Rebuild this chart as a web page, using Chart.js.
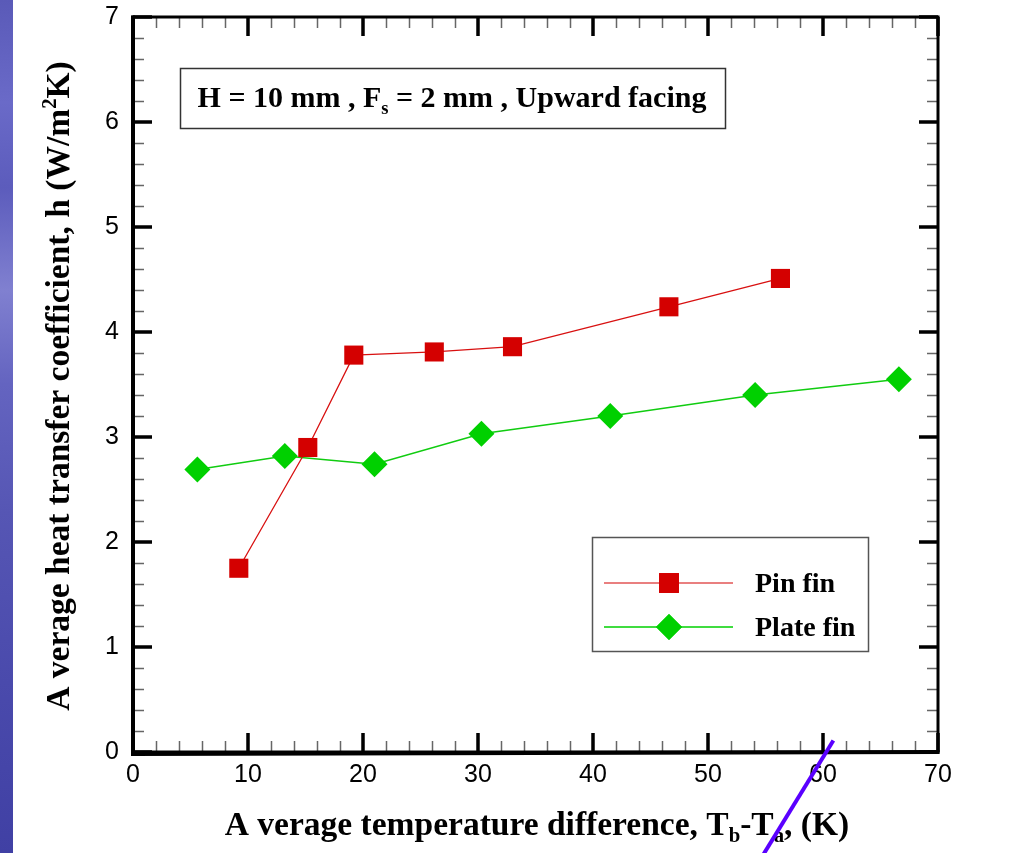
<!DOCTYPE html>
<html>
<head>
<meta charset="utf-8">
<script src="https://cdn.jsdelivr.net/npm/chart.js@4.4.1/dist/chart.umd.min.js"></script>
<style>
  html, body { margin: 0; padding: 0; background: #fff; }
  #wrap { position: relative; width: 1019px; height: 853px; overflow: hidden; }
  #strip {
    position: absolute; left: 0; top: 0; width: 13px; height: 853px;
    background: linear-gradient(180deg, #5a5ab8 0%, #6a6ac8 12%, #5c5cbc 22%, #8080d0 34%, #6464c0 45%, #5656b4 60%, #4a4aac 80%, #4040a4 100%);
  }
  #chart { position: absolute; left: 0; top: 0; }
</style>
</head>
<body>
<div id="wrap">
  <div id="strip"></div>
  <canvas id="chart" width="1019" height="853"></canvas>
</div>
<script>
// values
const pinX = [9.2, 15.2, 19.2, 26.2, 33.0, 46.6, 56.3];
const pinH = [1.75, 2.90, 3.78, 3.81, 3.86, 4.24, 4.51];
const plateX = [5.6, 13.2, 21.0, 30.3, 41.5, 54.1, 66.6];
const plateH = [2.69, 2.82, 2.74, 3.03, 3.20, 3.40, 3.55];
const seriesNames = ['Pin fin', 'Plate fin'];
const xTicks = [0, 10, 20, 30, 40, 50, 60, 70];
const yTicks = [0, 1, 2, 3, 4, 5, 6, 7];
// hand-drawn pen stroke across the x axis (data units)
const penStroke = [{ x: 60.9, y: 0.11 }, { x: 54.4, y: -1.05 }];

const RED = '#d40000';
const GREEN = '#00d000';
const SERIF = '"Liberation Serif", "Times New Roman", serif';
const SANS = '"Liberation Sans", Arial, sans-serif';

const toPoints = (xs, ys) => xs.map((x, i) => ({ x, y: ys[i] }));

// draw a run of text pieces, some of them sub/superscript
function richWidth(ctx, parts, size) {
  let w = 0;
  parts.forEach(p => {
    const s = p.sub || p.sup ? size * 0.62 : size;
    ctx.font = 'bold ' + s + 'px ' + SERIF;
    w += ctx.measureText(p.t).width;
  });
  return w;
}
function richText(ctx, parts, x, y, size, align) {
  let cx = align === 'center' ? x - richWidth(ctx, parts, size) / 2 : x;
  ctx.textAlign = 'left';
  ctx.textBaseline = 'alphabetic';
  parts.forEach(p => {
    const s = p.sub || p.sup ? size * 0.62 : size;
    ctx.font = 'bold ' + s + 'px ' + SERIF;
    let dy = 0;
    if (p.sub) dy = size * 0.22;
    if (p.sup) dy = -size * 0.38;
    ctx.fillText(p.t, cx, y + dy);
    cx += ctx.measureText(p.t).width;
  });
}

const framePlugin = {
  id: 'frame',
  afterDraw(chart) {
    const { ctx, chartArea: a, scales: { x, y } } = chart;
    ctx.save();
    ctx.fillStyle = '#000';

    // minor ticks, inward on all four sides
    ctx.strokeStyle = '#666';
    ctx.lineWidth = 1.5;
    ctx.beginPath();
    for (let v = 0; v <= 70; v += 2) {
      if (v % 10 === 0) continue;
      const px = Math.round(x.getPixelForValue(v)) + 0.5;
      ctx.moveTo(px, a.bottom); ctx.lineTo(px, a.bottom - 11);
      ctx.moveTo(px, a.top); ctx.lineTo(px, a.top + 11);
    }
    for (let k = 0; k <= 35; k++) {
      if (k % 5 === 0) continue;
      const py = Math.round(y.getPixelForValue(k / 5)) + 0.5;
      ctx.moveTo(a.left, py); ctx.lineTo(a.left + 11, py);
      ctx.moveTo(a.right, py); ctx.lineTo(a.right - 11, py);
    }
    ctx.stroke();

    // major ticks
    ctx.strokeStyle = '#000';
    ctx.lineWidth = 3.5;
    ctx.beginPath();
    xTicks.forEach(v => {
      const px = x.getPixelForValue(v);
      ctx.moveTo(px, a.bottom); ctx.lineTo(px, a.bottom - 19);
      ctx.moveTo(px, a.top); ctx.lineTo(px, a.top + 19);
    });
    yTicks.forEach(v => {
      const py = y.getPixelForValue(v);
      ctx.moveTo(a.left, py); ctx.lineTo(a.left + 19, py);
      ctx.moveTo(a.right, py); ctx.lineTo(a.right - 19, py);
    });
    ctx.stroke();

    // frame
    ctx.lineWidth = 3;
    ctx.strokeRect(a.left, a.top, a.right - a.left, a.bottom - a.top);
    ctx.lineWidth = 4;
    ctx.beginPath();
    ctx.moveTo(a.left, a.top - 1.5); ctx.lineTo(a.left, a.bottom + 2);
    ctx.lineTo(a.right + 1.5, a.bottom);
    ctx.stroke();

    // title box
    ctx.lineWidth = 1.5;
    ctx.strokeStyle = '#333';
    ctx.strokeRect(180.5, 68.5, 545, 60);
    richText(ctx, [
      { t: 'H = 10 mm , F' }, { t: 's', sub: true }, { t: ' = 2 mm , Upward facing' }
    ], 452, 107, 30, 'center');

    // legend box
    ctx.strokeStyle = '#555';
    ctx.strokeRect(592.5, 537.5, 276, 114);
    const legend = [
      { name: seriesNames[0], color: RED, style: 'rect', r: 14, w: 1.2, yy: 583 },
      { name: seriesNames[1], color: GREEN, style: 'rectRot', r: 13, w: 1.5, yy: 627 }
    ];
    legend.forEach(item => {
      ctx.strokeStyle = item.color;
      ctx.lineWidth = item.w;
      ctx.beginPath();
      ctx.moveTo(604, item.yy); ctx.lineTo(733, item.yy);
      ctx.stroke();
      ctx.fillStyle = item.color;
      Chart.helpers.drawPoint(ctx, { pointStyle: item.style, radius: item.r, borderWidth: 0, rotation: 0 }, 669, item.yy);
      ctx.fill();
      ctx.fillStyle = '#000';
      ctx.font = 'bold 28px ' + SERIF;
      ctx.textAlign = 'left';
      ctx.textBaseline = 'alphabetic';
      ctx.fillText(item.name, 755, item.yy + 9);
    });

    // axis titles
    ctx.fillStyle = '#000';
    richText(ctx, [
      { t: 'A verage temperature difference, T' }, { t: 'b', sub: true },
      { t: '-T' }, { t: 'a', sub: true }, { t: ', (K)' }
    ], 537, 835, 33.5, 'center');
    ctx.save();
    ctx.translate(69, 386);
    ctx.rotate(-Math.PI / 2);
    richText(ctx, [
      { t: 'A verage heat transfer coefficient, h (W/m' }, { t: '2', sup: true }, { t: 'K)' }
    ], 0, 0, 33.5, 'center');
    ctx.restore();

    // pen stroke
    ctx.strokeStyle = '#5a00ff';
    ctx.lineWidth = 4;
    ctx.lineCap = 'butt';
    ctx.beginPath();
    ctx.moveTo(x.getPixelForValue(penStroke[0].x), y.getPixelForValue(penStroke[0].y));
    ctx.lineTo(x.getPixelForValue(penStroke[1].x), y.getPixelForValue(penStroke[1].y));
    ctx.stroke();

    ctx.restore();
  }
};

new Chart(document.getElementById('chart'), {
  type: 'scatter',
  data: {
    datasets: [
      {
        label: seriesNames[0],
        data: toPoints(pinX, pinH),
        showLine: true,
        borderColor: '#d81010',
        borderWidth: 1.3,
        backgroundColor: RED,
        pointStyle: 'rect',
        pointRadius: 13.5,
        pointBorderWidth: 0,
        pointBackgroundColor: RED,
        order: 1
      },
      {
        label: seriesNames[1],
        data: toPoints(plateX, plateH),
        showLine: true,
        borderColor: '#10cc10',
        borderWidth: 1.5,
        backgroundColor: GREEN,
        pointStyle: 'rectRot',
        pointRadius: 13,
        pointBorderWidth: 0,
        pointBackgroundColor: GREEN,
        order: 2
      }
    ]
  },
  options: {
    responsive: false,
    animation: false,
    layout: { padding: { left: 0, right: 81, top: 17, bottom: 0 } },
    scales: {
      x: {
        type: 'linear',
        min: 0,
        max: 70,
        afterFit: s => { s.height = 101; s.paddingLeft = 0; s.paddingRight = 0; },
        afterBuildTicks: s => { s.ticks = xTicks.map(v => ({ value: v })); },
        grid: { display: false },
        border: { display: false },
        ticks: { color: '#000', padding: 0, font: { family: SANS, size: 25 } }
      },
      y: {
        type: 'linear',
        min: 0,
        max: 7,
        afterFit: s => { s.width = 133; s.paddingTop = 0; s.paddingBottom = 0; },
        afterBuildTicks: s => { s.ticks = yTicks.map(v => ({ value: v })); },
        grid: { display: false },
        border: { display: false },
        ticks: { color: '#000', padding: 6, font: { family: SANS, size: 25 } }
      }
    },
    plugins: {
      legend: { display: false },
      tooltip: { enabled: false }
    }
  },
  plugins: [framePlugin]
});
</script>
</body>
</html>
